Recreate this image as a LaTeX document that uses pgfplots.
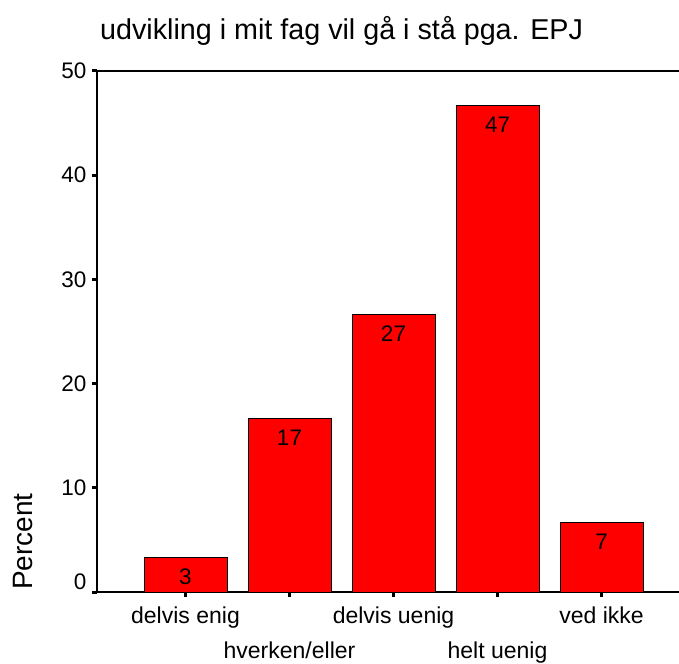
\documentclass[border=0pt]{standalone}
\usepackage{pgfplots}
\pgfplotsset{compat=1.18}
\usepackage{fontspec}
\setmainfont{Liberation Sans}
\definecolor{barred}{RGB}{255,0,0}
\begin{document}
\begin{tikzpicture}
\begin{axis}[
  at={(0,0)}, anchor=south west,
  scale only axis, clip=false,
  width=590pt, height=521pt,
  ybar, bar width=83pt,
  xmin=-0.851, xmax=4.822,
  ymin=0, ymax=50,
  ytick={0,10,20,30,40,50},
  yticklabels={\raisebox{20pt}{0},10,20,30,40,50},
  xtick={0,2,4},
  xticklabels={{delvis enig},{delvis uenig},{ved ikke}},
  extra x ticks={1,3},
  extra x tick labels={{hverken/eller},{helt uenig}},
  extra x tick style={xticklabel style={yshift=-35pt}},
  axis line style={line width=1.5pt},
  tick align=outside, tick pos=left,
  major tick length=4.5pt,
  every tick/.style={black, line width=3pt},
  /pgf/number format/assume math mode=true,
  yticklabel style={font=\fontsize{22.5}{26}\selectfont, inner sep=0pt, xshift=-6pt},
  xticklabel style={font=\fontsize{23}{26}\selectfont, anchor=base, inner sep=0pt, yshift=-27pt},
  title={udvikling i mit fag vil gå i stå pga. EPJ},
  title style={at={(axis description cs:0,1)}, anchor=base west, font=\fontsize{28.7}{32}\selectfont, xshift=3pt, yshift=25pt, inner sep=0pt},
  point meta=explicit symbolic,
  nodes near coords,
  every node near coord/.append style={anchor=north, yshift=-11pt, inner sep=0pt, font=\fontsize{22.5}{26}\selectfont, black},
]
\addplot[fill=barred, draw=black, line width=1pt] coordinates {
  (0,3.33) [3]
  (1,16.67) [17]
  (2,26.67) [27]
  (3,46.67) [47]
  (4,6.67) [7]
};
\node[rotate=90, anchor=base west, inner sep=0pt, font=\fontsize{28}{32}\selectfont] at (axis description cs:-0.1085,0.004) {Percent};
\end{axis}
\pgfresetboundingbox
\path[use as bounding box] (-97pt,-71pt) rectangle (582pt,592pt);
\end{tikzpicture}
\end{document}
